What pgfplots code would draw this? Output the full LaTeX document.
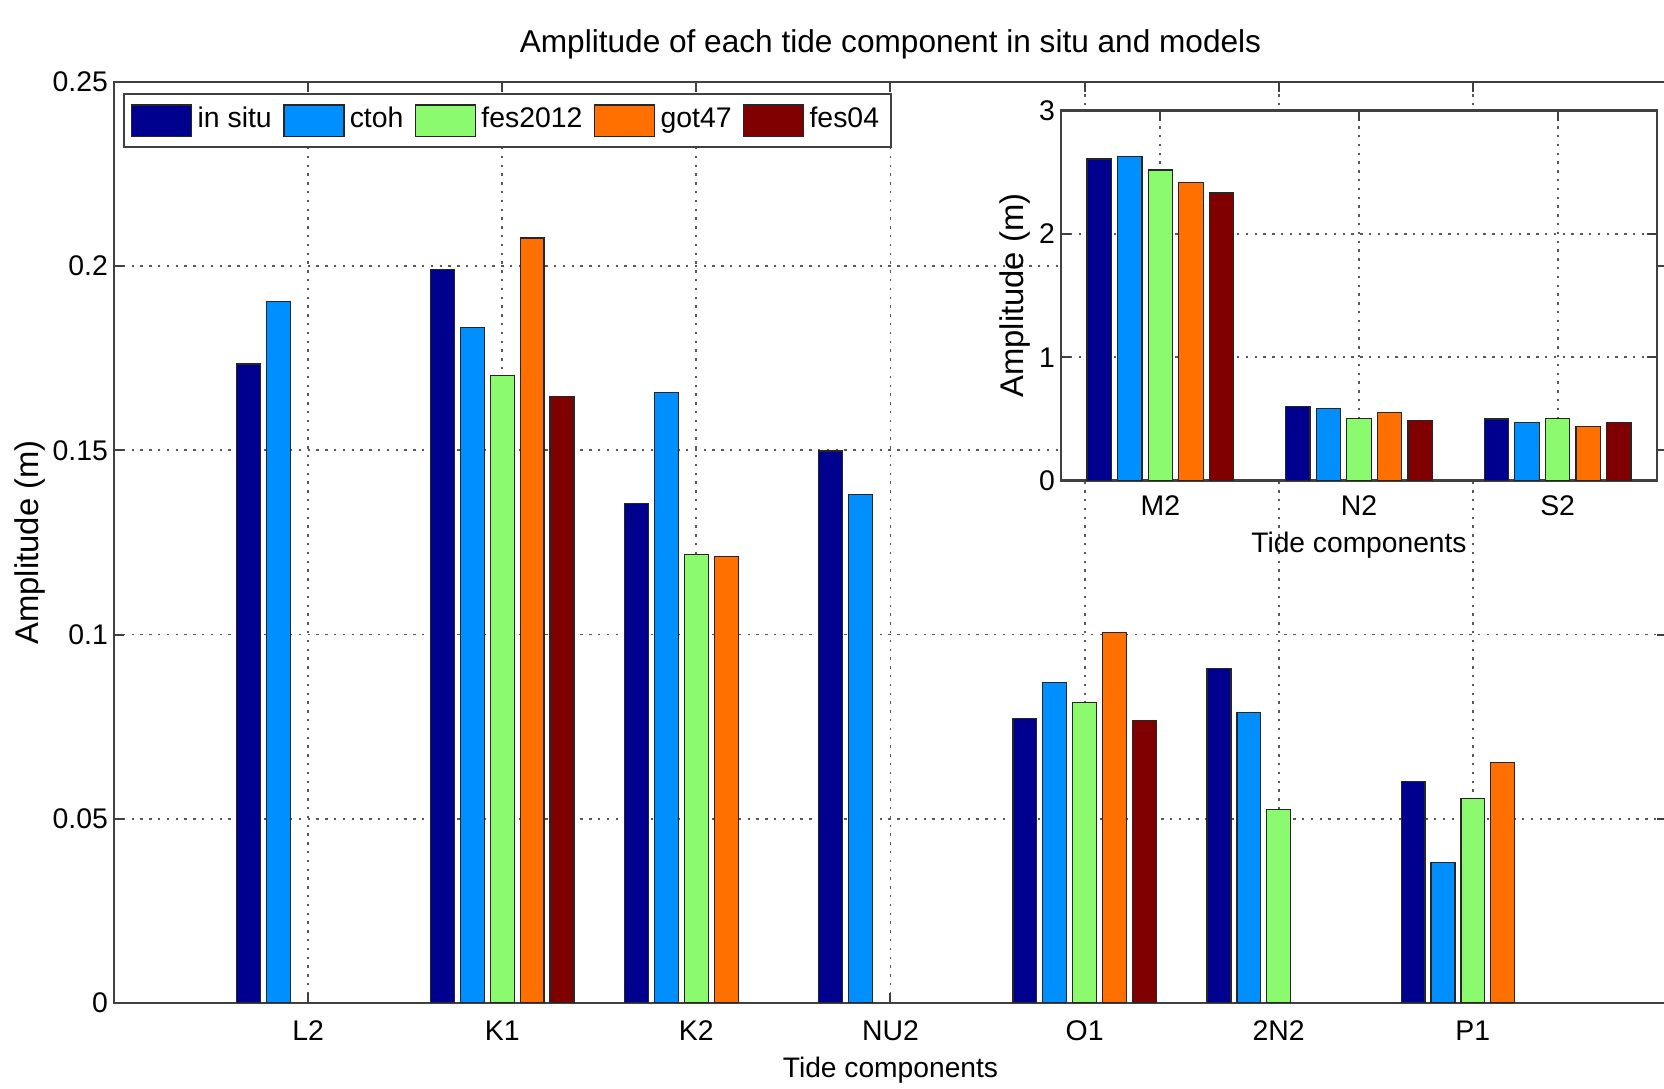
\documentclass[border=0pt]{standalone}
\usepackage{fontspec}
\setmainfont{Liberation Sans}
\usepackage{pgfplots}
\pgfplotsset{compat=1.18}

\definecolor{cA}{RGB}{0,0,143}
\definecolor{cB}{RGB}{0,143,255}
\definecolor{cC}{RGB}{140,250,110}
\definecolor{cD}{RGB}{255,112,0}
\definecolor{cE}{RGB}{128,0,0}

\pgfplotsset{
  tidestyle/.style={
    scale only axis,
    ybar,
    bar width=0.123,
    tick align=inside,
    major tick length=2.5pt,
    grid=major,
    major grid style={black!65, line width=0.45pt, dash pattern=on 0.6pt off 1.6pt},
    axis line style={black!75, line width=0.55pt},
    tick style={black!75, line width=0.5pt},
    ticklabel style={font=\fontsize{7.1}{8}\selectfont},
    yticklabel style={xshift=2pt},
    xlabel style={font=\fontsize{7.05}{8}\selectfont},
    ylabel style={font=\fontsize{8.2}{9}\selectfont},
    /pgf/number format/assume math mode=true,
    every axis plot/.append style={draw=black!85, line width=0.3pt},
    legend image code/.code={\draw[##1,draw=black!85,line width=0.3pt] (0pt,-3.9pt) rectangle (15pt,3.9pt);},
  },
}

\begin{document}
\begin{tikzpicture}
\begin{axis}[tidestyle,
  at={(0,0)}, anchor=south west,
  width=388.25pt, height=230.3pt,
  xmin=0, xmax=8, ymin=0, ymax=0.25,
  xtick={1,2,3,4,5,6,7},
  xticklabels={L2,K1,K2,NU2,O1,2N2,P1},
  ytick={0,0.05,0.1,0.15,0.2,0.25},
  yticklabels={0,0.05,0.1,0.15,0.2,0.25},
  xticklabel style={anchor=base, yshift=-9.3pt},
  title={Amplitude of each tide component in situ and models},
  title style={font=\fontsize{7.9}{9}\selectfont, at={(axis description cs:0.5,1)}, anchor=base, yshift=1.3pt},
  xlabel={Tide components},
  xlabel style={at={(axis description cs:0.5,0)}, anchor=base, yshift=-18.7pt},
  ylabel={Amplitude (m)},
  ylabel style={at={(axis description cs:0,0.5)}, anchor=center, yshift=21.0pt},
  legend columns=5,
  legend style={at={(axis description cs:0.0058,0.9877)}, anchor=north west,
    draw=black!75, line width=0.5pt, fill=white,
    font=\fontsize{7.1}{8}\selectfont, inner xsep=1.8pt, inner ysep=1.8pt,
    nodes={inner xsep=1.3pt, inner ysep=1.5pt},
    /tikz/every even column/.append style={column sep=1.6pt}},
]
\addplot[fill=cA, bar shift=-0.3077] coordinates {(1,0.1734) (2,0.1991) (3,0.1355) (4,0.1498) (5,0.0772) (6,0.0907) (7,0.0600)};
\addplot[fill=cB, bar shift=-0.1538] coordinates {(1,0.1903) (2,0.1834) (3,0.1656) (4,0.1381) (5,0.0870) (6,0.0789) (7,0.0382)};
\addplot[fill=cC, bar shift=0] coordinates {(2,0.1702) (3,0.1217) (5,0.0815) (6,0.0525) (7,0.0554)};
\addplot[fill=cD, bar shift=0.1538] coordinates {(2,0.2076) (3,0.1211) (5,0.1005) (7,0.0652)};
\addplot[fill=cE, bar shift=0.3077] coordinates {(2,0.1645) (5,0.0766)};
\legend{in situ, ctoh, fes2012, got47, fes04}
\end{axis}

\begin{axis}[tidestyle,
  at={(236.75pt,130.6pt)}, anchor=south west,
  width=149pt, height=92.5pt,
  axis background/.style={fill=white},
  xmin=0.5, xmax=3.5, ymin=0, ymax=3,
  xtick={1,2,3},
  xticklabels={M2,N2,S2},
  ytick={0,1,2,3},
  yticklabels={0,1,2,3},
  xticklabel style={anchor=base, yshift=-8.8pt},
  xlabel={Tide components},
  xlabel style={at={(axis description cs:0.5,0)}, anchor=base, yshift=-18.1pt},
  ylabel={Amplitude (m)},
  ylabel style={at={(axis description cs:0,0.5)}, anchor=center, yshift=11.6pt},
]
\addplot[fill=cA, bar shift=-0.3077] coordinates {(1,2.608) (2,0.600) (3,0.500)};
\addplot[fill=cB, bar shift=-0.1538] coordinates {(1,2.627) (2,0.586) (3,0.468)};
\addplot[fill=cC, bar shift=0] coordinates {(1,2.519) (2,0.505) (3,0.505)};
\addplot[fill=cD, bar shift=0.1538] coordinates {(1,2.419) (2,0.549) (3,0.441)};
\addplot[fill=cE, bar shift=0.3077] coordinates {(1,2.332) (2,0.486) (3,0.468)};
\end{axis}

\pgfresetboundingbox
\path (-28.5pt,-21.5pt) rectangle (387.5pt,250.75pt);
\end{tikzpicture}
\end{document}
